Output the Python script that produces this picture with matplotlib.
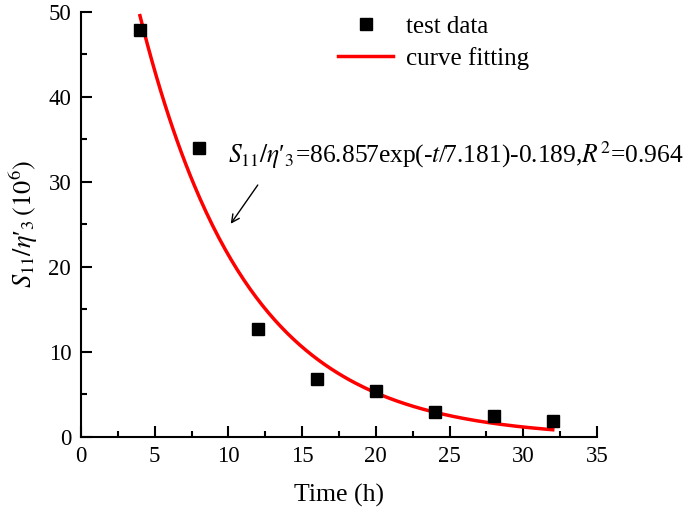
import numpy as np
import matplotlib.pyplot as plt
from matplotlib.ticker import MultipleLocator

# test data
time_h = [4, 8, 12, 16, 20, 24, 28, 32]
s11_eta = [47.9, 34.0, 12.7, 6.8, 5.4, 2.9, 2.4, 1.8]

# fitted parameters (from the equation on the chart)
fit_a = 86.857
fit_tau = 7.181
fit_c = -0.189
fit_r2 = 0.964

plt.rcParams['font.family'] = ['Liberation Serif', 'DejaVu Serif']
plt.rcParams['mathtext.fontset'] = 'stix'

fig = plt.figure(figsize=(6.85, 5.13), dpi=100)
ax = fig.add_axes([0.1182, 0.1487, 0.7533, 0.8279])

t = np.linspace(time_h[0], time_h[-1], 200)
ax.plot(t, fit_a * np.exp(-t / fit_tau) + fit_c, color='red', lw=2.5,
        label='curve fitting', zorder=2)
ax.plot(time_h, s11_eta, 's', color='black', ms=8, label='test data',
        zorder=3)

ax.set_xlim(0, 35)
ax.set_ylim(0, 50)
ax.xaxis.set_major_locator(MultipleLocator(5))
ax.xaxis.set_minor_locator(MultipleLocator(2.5))
ax.yaxis.set_major_locator(MultipleLocator(10))
ax.yaxis.set_minor_locator(MultipleLocator(5))
for s in ['top', 'right']:
    ax.spines[s].set_visible(False)
for s in ['left', 'bottom']:
    ax.spines[s].set_linewidth(1.5)
ax.tick_params(which='both', direction='in', width=1.5, labelsize=16.5)
ax.tick_params(which='major', length=8, pad=7)
ax.tick_params(which='minor', length=4)

ax.set_xlabel('Time (h)', fontsize=18.5, labelpad=12)
ax.set_ylabel(r"$S_{11}/\eta$′$_3\,(10^6)$", fontsize=19, labelpad=6)

ax.annotate('', xy=(10.05, 24.8), xytext=(12.1, 29.9),
            arrowprops=dict(arrowstyle='->', color='black', lw=1,
                            mutation_scale=14))
ax.text(10.0, 33.2,
        r"$S_{11}/\eta$′$_3$=%.3fexp(-$t$/%.3f)%.3f,$R^2$=%.3f"
        % (fit_a, fit_tau, fit_c, fit_r2),
        fontsize=18.4, va='center', ha='left')

handles, labels = ax.get_legend_handles_labels()
ax.legend(handles[::-1], labels[::-1], loc='upper left',
          bbox_to_anchor=(0.455, 1.045), frameon=False, fontsize=18,
          handlelength=2.2, handletextpad=0.5, labelspacing=0.35)

fig.savefig('out.png', dpi=100)
